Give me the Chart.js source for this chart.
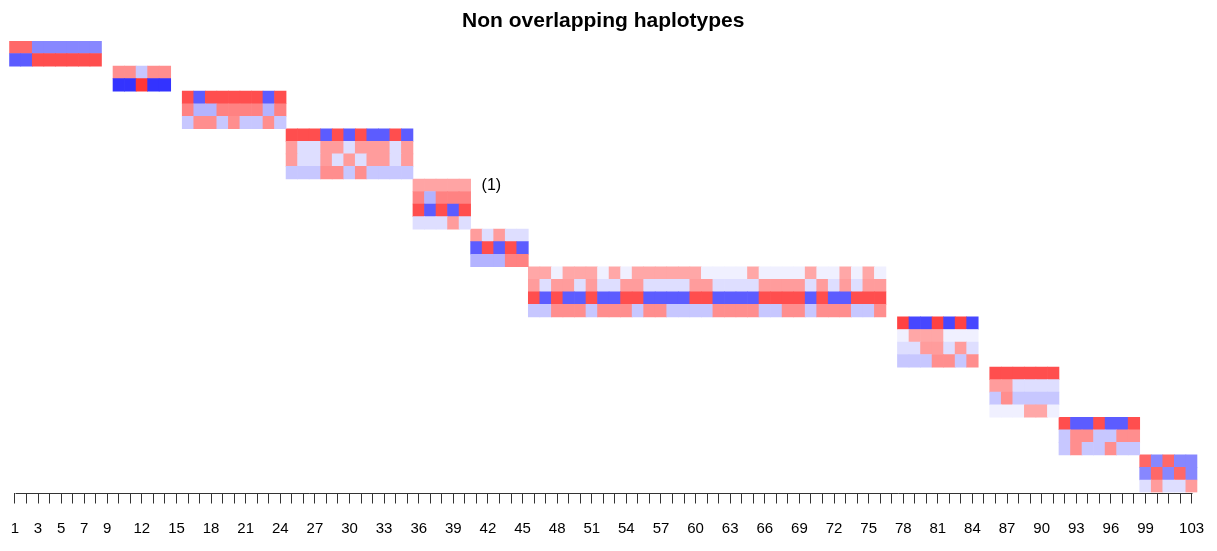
<!DOCTYPE html>
<html>
<head>
<meta charset="utf-8">
<script src="https://cdn.jsdelivr.net/npm/chart.js"></script>
<style>
  html, body { margin: 0; padding: 0; background: #fff; }
  #wrap { width: 1217px; height: 551px; }
</style>
</head>
<body>
<div id="wrap"><canvas id="hapChart"></canvas></div>
<script>
// first marker of every block (markers numbered 1..103)
const blockStart = [1, 10, 16, 25, 36, 41, 46, 78, 86, 92, 99];

// haplotypes per block, one allele (1 or 2) per marker
const haplotypes = [
  ['11222222', '22111111'],
  ['11211', '22122'],
  ['121111121', '122111121', '211212212'],
  ['11121212212', '12211211121', '12212121121', '22211212222'],
  ['11111', '12111', '12121', '22212'],
  ['12122', '21212', '22211'],
  ['1121112121111112222122221221212',
   '1211212211222211222211112121211',
   '1212212211222211222211112122111',
   '2211121112112222111122112111221'],
  ['1221212', '2111222', '2211212', '2221121'],
  ['111111', '112222', '212222', '222112'],
  ['1221221', '2112211', '2122122'],
  ['12122', '21212', '21221']
];

// estimated haplotype frequencies (shade of the row)
const hapFreq = [
  [0.47, 0.64],
  [0.22, 0.80],
  [0.64, 0.30, 0.22],
  [0.64, 0.13, 0.13, 0.22],
  [0.08, 0.30, 0.64, 0.13],
  [0.13, 0.64, 0.30],
  [0.06, 0.13, 0.64, 0.22],
  [0.72, 0.06, 0.13, 0.22],
  [0.64, 0.13, 0.22, 0.06],
  [0.64, 0.22, 0.22],
  [0.47, 0.47, 0.13]
];

const tickLabels = [1, 3, 5, 7, 9, 12, 15, 18, 21, 24, 27, 30, 33, 36, 39, 42, 45,
  48, 51, 54, 57, 60, 63, 66, 69, 72, 75, 78, 81, 84, 87, 90, 93, 96, 99, 103];
const nMarkers = 103;

// "(1)" note next to block 5
const noteText = '(1)';
const noteBlock = 4;

function cellColour(allele, f) {
  if (allele === '2') {
    const c = Math.round(255 * (1 - f));
    return 'rgb(' + c + ',' + c + ',255)';
  }
  const c = Math.round(255 * (1 - (0.31 + 0.6 * f)));
  return 'rgb(255,' + c + ',' + c + ')';
}

let nextRow = 0;
const rowOffset = haplotypes.map(rows => {
  const r = nextRow;
  nextRow += rows.length;
  return r;
});
const nRows = nextRow;

const datasets = haplotypes.map((rows, b) => {
  const data = [], colours = [];
  rows.forEach((hap, i) => {
    const row = rowOffset[b] + i;
    hap.split('').forEach((allele, j) => {
      data.push({ x: blockStart[b] + j, y: [row, row + 1] });
      colours.push(cellColour(allele, hapFreq[b][i]));
    });
  });
  return {
    data: data,
    backgroundColor: colours,
    borderWidth: 0,
    barPercentage: 1,
    categoryPercentage: 1,
    grouped: false
  };
});

const allTicks = [];
for (let m = 1; m <= nMarkers; m++) allTicks.push(m);

const extras = {
  id: 'extras',
  afterDraw(chart) {
    const ctx = chart.ctx, xs = chart.scales.x, ys = chart.scales.y;
    const yLine = Math.round(chart.chartArea.bottom) + 0.5;
    ctx.save();
    ctx.strokeStyle = '#333';
    ctx.lineWidth = 1;
    ctx.beginPath();
    ctx.moveTo(Math.round(xs.getPixelForValue(1)) + 0.5, yLine);
    ctx.lineTo(Math.round(xs.getPixelForValue(nMarkers)) + 0.5, yLine);
    ctx.stroke();

    const lastMarker = blockStart[noteBlock] + haplotypes[noteBlock][0].length - 1;
    ctx.fillStyle = '#000';
    ctx.font = '16px "Liberation Sans", Arial, sans-serif';
    ctx.textAlign = 'center';
    ctx.textBaseline = 'middle';
    ctx.fillText(noteText, xs.getPixelForValue(lastMarker + 2.3),
      ys.getPixelForValue(rowOffset[noteBlock] + 0.5));
    ctx.restore();
  }
};

Chart.defaults.font.family = '"Liberation Sans", Arial, sans-serif';

new Chart(document.getElementById('hapChart'), {
  type: 'bar',
  data: { datasets: datasets },
  plugins: [extras],
  options: {
    responsive: true,
    maintainAspectRatio: false,
    animation: false,
    events: [],
    layout: { padding: { left: 9.2, right: 19.6, top: 0, bottom: 0 } },
    plugins: {
      legend: { display: false },
      tooltip: { enabled: false },
      title: {
        display: true,
        text: 'Non overlapping haplotypes',
        color: '#000',
        font: { size: 21, weight: 'bold' },
        padding: { top: 8.2, bottom: 7.6 }
      }
    },
    scales: {
      x: {
        type: 'linear',
        min: 0.5,
        max: nMarkers + 0.5,
        offset: false,
        afterBuildTicks: s => { s.ticks = allTicks.map(v => ({ value: v })); },
        afterFit: s => { s.paddingLeft = 0; s.paddingRight = 0; s.height = 58.5; },
        grid: { display: true, offset: false, drawOnChartArea: false, drawTicks: true,
                tickLength: 11, color: '#333', lineWidth: 1 },
        border: { display: false },
        ticks: {
          autoSkip: false, maxRotation: 0, minRotation: 0, padding: 16,
          color: '#000', font: { size: 15 },
          callback: v => tickLabels.includes(v) ? String(v) : ''
        }
      },
      y: {
        type: 'linear',
        display: false,
        reverse: true,
        min: 0,
        max: nRows
      }
    }
  }
});
</script>
</body>
</html>
